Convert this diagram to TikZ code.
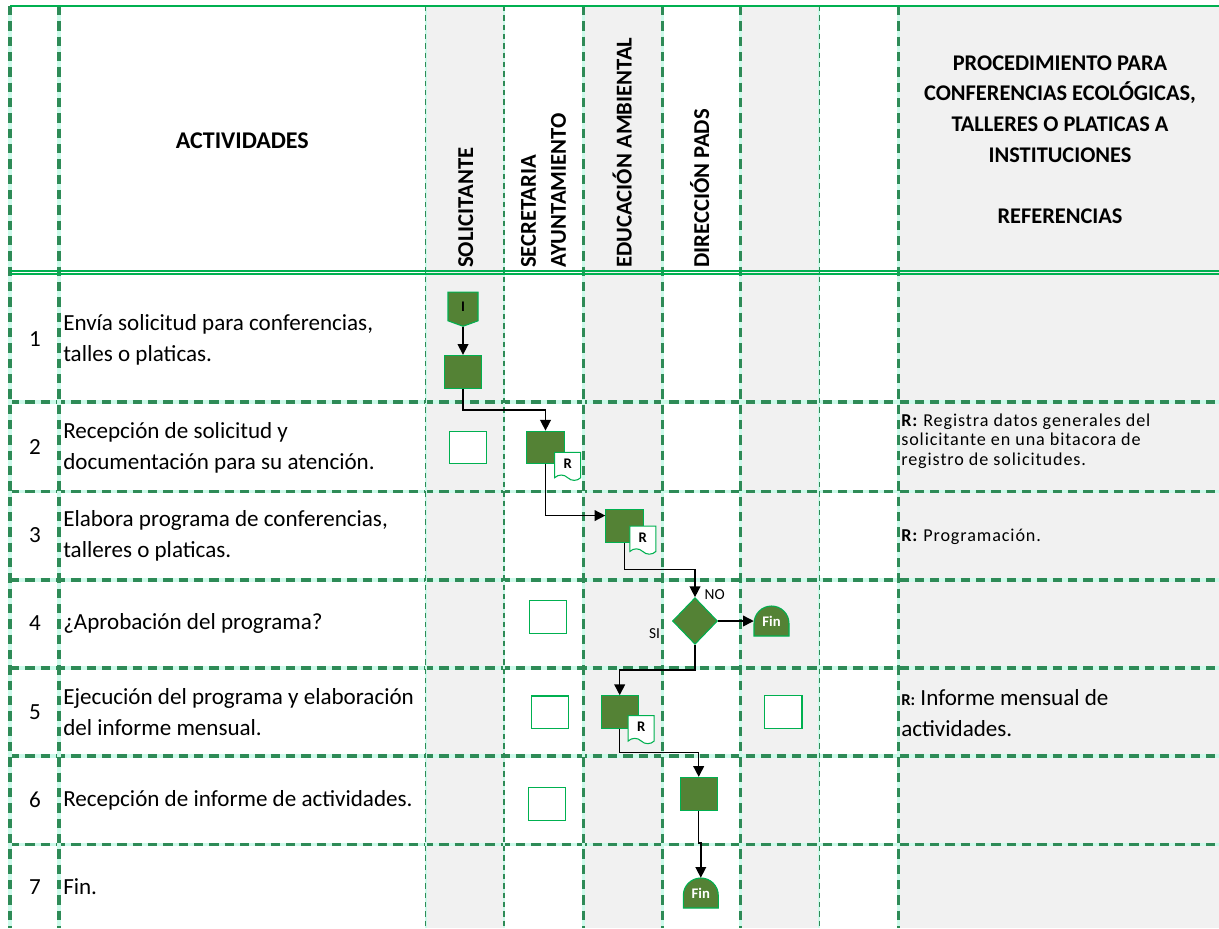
\documentclass[tikz,border=0pt]{standalone}
\usepackage{fontspec}
\setmainfont{Carlito}
\newfontfamily\espaciada[LetterSpace=5]{Carlito}
\usetikzlibrary{arrows.meta,shapes.geometric,shapes.symbols,positioning}

\definecolor{verdeF}{RGB}{84,130,53}
\definecolor{verdeB}{RGB}{0,176,80}
\definecolor{verdeR}{RGB}{46,139,87}
\definecolor{menta}{RGB}{204,250,234}
\definecolor{gris}{RGB}{241,241,241}

\tikzset{
  rejilla/.style={draw=menta, line width=2.3pt, postaction={draw=verdeR, dash pattern=on 7pt off 4.5pt}},
  rejillafina/.style={draw=menta, line width=1.3pt, postaction={draw=verdeR, line width=0.9pt, dash pattern=on 4pt off 3pt}},
  borde/.style={draw=verdeB, line width=1.2pt},
  proceso/.style={rectangle, draw=verdeB, fill=verdeF, line width=0.8pt, minimum width=28pt, minimum height=24.5pt, inner sep=0pt},
  vacio/.style={rectangle, draw=verdeB, fill=white, line width=0.8pt, minimum width=28pt, minimum height=24.5pt, inner sep=0pt},
  docu/.style={tape, tape bend top=none, tape bend bottom=out and in, tape bend height=4pt, draw=verdeB, fill=white, line width=0.8pt, minimum width=19.5pt, minimum height=21pt, inner sep=0pt, font=\fontsize{11}{12}\selectfont\bfseries},
  inicio/.style={signal, signal to=south, signal pointer angle=140, draw=verdeB, fill=verdeF, line width=0.8pt, minimum width=22.5pt, minimum height=22pt, inner sep=0pt, font=\fontsize{11}{12}\selectfont\bfseries},
  decision/.style={diamond, draw=verdeB, fill=verdeF, line width=0.8pt, minimum width=33.75pt, minimum height=35pt, inner sep=0pt},
  fin/.style={rectangle, inner sep=0pt, minimum width=26.25pt, minimum height=22.5pt, text=white, font=\fontsize{11}{12}\selectfont\bfseries},
  flujo/.style={draw=black, line width=1.1pt, -{Triangle[length=8pt,width=8pt]}},
  cabecera/.style={inner sep=0pt, font=\fontsize{17}{22.5}\selectfont\bfseries},
  titulo/.style={inner sep=0pt, align=center, font=\fontsize{16.8}{23}\selectfont\bfseries},
  actividad/.style={anchor=west, align=left, inner sep=0pt, font=\fontsize{17.3}{23.25}\selectfont},
  numero/.style={inner sep=0pt, font=\fontsize{17.3}{20}\selectfont},
  referencia/.style={anchor=west, align=left, inner sep=0pt, font=\espaciada\fontsize{13.6}{14.5}\selectfont},
  etiqueta/.style={inner sep=0pt, font=\fontsize{11.5}{13}\selectfont}
}

\newcommand{\nodofin}[2]{%
  \begin{scope}[shift={(#2)}]
    \draw[draw=verdeB, fill=verdeF, line width=0.8pt] (-17.5,15) -- (-17.5,2.5) .. controls (-17.5,-7.2) and (-9.7,-15) .. (0,-15) .. controls (9.7,-15) and (17.5,-7.2) .. (17.5,2.5) -- (17.5,15) -- cycle;
  \end{scope}
  \node[fin] (#1) at (#2) {Fin};
}

\begin{document}
\begin{tikzpicture}[x=0.75pt,y=0.75pt,yscale=-1,xscale=1]
\useasboundingbox (0,0) rectangle (1219,928);

%Shaded columns
\fill[gris] (425.7,6) rectangle (504,928);
\fill[gris] (583.3,6) rectangle (662.3,928);
\fill[gris] (740.7,6) rectangle (819.3,928);
\fill[gris] (898.3,6) rectangle (1219,928);

%Straight Lines
\foreach \y in {402,491.5,580,668,756,844.5}
  \draw[rejilla] (10,\y) -- (1219,\y);
\foreach \x in {10,59,583.3,662.3,740.7,898.3}
  \draw[rejilla] (\x,6) -- (\x,928);
\foreach \x in {425.7,504,819.3}
  \draw[rejillafina] (\x,6) -- (\x,928);
\draw[borde] (10,6) -- (1219,6);
\draw[borde] (10,270.7) -- (1219,270.7);
\draw[borde] (10,274) -- (1219,274);

% Text Node
\node[cabecera, font=\fontsize{18}{22.5}\selectfont\bfseries] (activ) at (242.3,140.5) {ACTIVIDADES};
\node[cabecera, rotate=90, anchor=base west] (solic) at (473,268) {SOLICITANTE};
\node[cabecera, rotate=90, anchor=west, align=left] (secre) at (543.4,268) {SECRETARIA\\AYUNTAMIENTO};
\node[cabecera, rotate=90, anchor=base west] (educ) at (631.5,268) {EDUCACIÓN AMBIENTAL};
\node[cabecera, rotate=90, anchor=base west] (direc) at (709,268) {DIRECCIÓN PADS};
\node[titulo] (proced) at (1060,139.7) {PROCEDIMIENTO PARA\\CONFERENCIAS ECOLÓGICAS,\\TALLERES O PLATICAS A\\INSTITUCIONES\\[23pt]REFERENCIAS};

% Text Node
\node[numero] (n1) at (35,339.5) {1};
\node[numero] (n2) at (35,447.5) {2};
\node[numero] (n3) at (35,535.5) {3};
\node[numero] (n4) at (35,623) {4};
\node[numero] (n5) at (35,712.5) {5};
\node[numero] (n6) at (35,800) {6};
\node[numero] (n7) at (35,887) {7};

% Text Node
\node[actividad] (act1) at (63,339.5) {Envía solicitud para conferencias,\\talles o platicas.};
\node[actividad] (act2) at (63,447.5) {Recepción de solicitud y\\documentación para su atención.};
\node[actividad] (act3) at (63,535.5) {Elabora programa de conferencias,\\talleres o platicas.};
\node[actividad] (act4) at (63,623) {¿Aprobación del programa?};
\node[actividad] (act5) at (63,712.5) {Ejecución del programa y elaboración\\del informe mensual.};
\node[actividad] (act6) at (63,800) {Recepción de informe de actividades.};
\node[actividad] (act7) at (63,887) {Fin.};

% Text Node
\node[referencia] (ref2) at (901,441) {\textbf{R:} Registra datos generales del\\solicitante en una bitacora de\\registro de solicitudes.};
\node[referencia] (ref3) at (901,537) {\textbf{R:} Programación.};
\node[actividad] (ref5) at (901,713) {{\fontsize{12.5}{14}\selectfont\bfseries R:} Informe mensual de\\actividades.};

% Flow shapes
\node[inicio] (ini) at (463,306.5) {I};
\node[proceso] (sq1) at (463,371.7) {};
\node[vacio] (e2) at (468.2,447.5) {};
\node[proceso] (sq2) at (545.5,447.5) {};
\node[docu] (d2) at (567.7,463.7) {R};
\node[proceso] (sq3) at (624.5,526.2) {};
\node[docu] (d3) at (642.8,537.5) {R};
\node[vacio] (e4) at (547.8,617) {};
\node[decision] (dia) at (695,621) {};
\nodofin{fin1}{771.5,621}
\node[vacio] (e5) at (550.2,712.3) {};
\node[proceso] (sq5) at (619.7,712) {};
\node[docu] (d5) at (641.2,727) {R};
\node[vacio] (e5b) at (783.3,712.2) {};
\node[vacio] (e6) at (547,803.7) {};
\node[proceso] (sq6) at (698.7,793.7) {};
\nodofin{fin2}{700.8,893}

% Text Node
\node[etiqueta] (lblno) at (714.7,595) {NO};
\node[etiqueta] (lblsi) at (654.5,633.5) {SI};

% Connection
\coordinate (c12) at (500,410);
\coordinate (c34) at (660,569.3);
\coordinate (c45) at (650,670);
\coordinate (c56) at (660,752.7);
\coordinate (c67) at (700.8,843);
\draw[flujo] (ini.south) -- (sq1.north);
\draw[flujo] (sq1.south) |- (c12) -| (sq2.north);
\draw[flujo] (sq2.south) |- (sq3.151);
\draw[flujo] (sq3.south) |- (c34) -| (dia.north);
\draw[flujo] (dia.east) -- (fin1.west);
\draw[flujo] (dia.south) |- (c45) -| (sq5.north);
\draw[flujo] (sq5.south) |- (c56) -| (sq6.north);
\draw[flujo] (sq6.south) |- (c67) -- (fin2.north);

\end{tikzpicture}
\end{document}
